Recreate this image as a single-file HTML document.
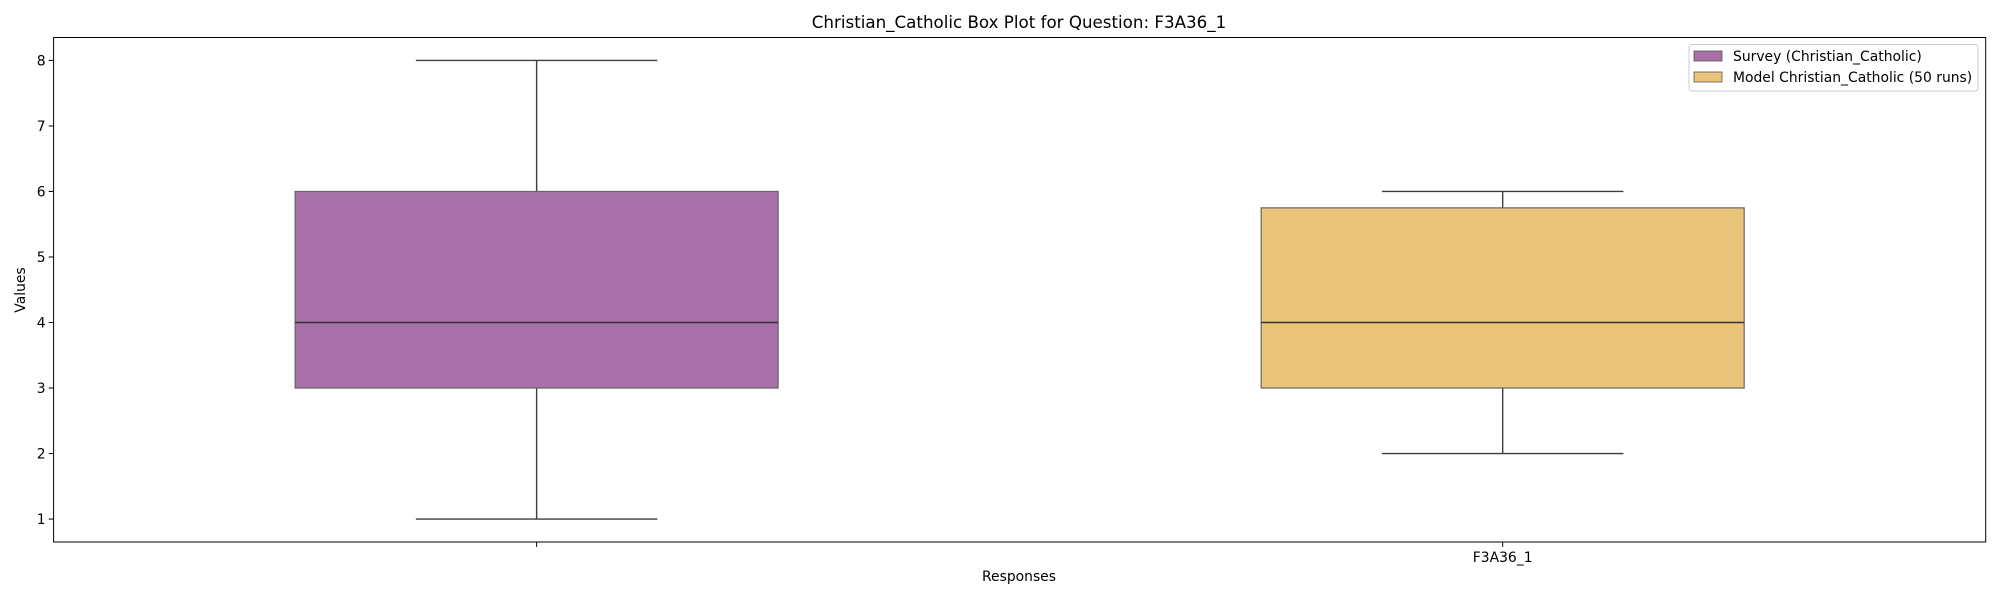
<!DOCTYPE html>
<html><head><meta charset="utf-8"><style>
html,body{margin:0;padding:0;background:#fff;}
svg{display:block;font-family:"DejaVu Sans","Liberation Sans",sans-serif;}
</style></head><body>
<svg id="chart" width="2000" height="600" viewBox="0 0 2000 600">
<text x="1019" y="28" font-size="16.7" text-anchor="middle">Christian_Catholic Box Plot for Question: F3A36_1</text>
<g id="marks"></g>
<g id="axes"></g>
<text x="1019" y="581" font-size="13.9" text-anchor="middle">Responses</text>
<text transform="translate(25,290) rotate(-90)" font-size="13.9" text-anchor="middle">Values</text>
<g>
<rect x="1689" y="44.5" width="289" height="46.5" rx="3" fill="#fff" stroke="#ccc" stroke-width="1" fill-opacity="0.8"/>
<rect x="1694" y="51" width="28" height="10" fill="#a870a8" stroke="#555" stroke-width="0.8"/>
<text x="1733" y="61" font-size="13.9">Survey (Christian_Catholic)</text>
<rect x="1694" y="72" width="28" height="10" fill="#eac47a" stroke="#555" stroke-width="0.8"/>
<text x="1733" y="82" font-size="13.9">Model Christian_Catholic (50 runs)</text>
</g>
</svg>
<script>
const categories = ["", "F3A36_1"];
const seriesNames = ["survey", "model"];
const whiskerLow = [1, 2];
const q1Values = [3, 3];
const medianValues = [4, 4];
const q3Values = [6, 5.75];
const whiskerHigh = [8, 6];
const yTicks = [1, 2, 3, 4, 5, 6, 7, 8];
const colors = ["#a870a8", "#eac47a"];

const L = 53.6, R = 1985.7, T = 37.5, B = 542;
const yMin = 0.65, yMax = 8.35;
const xMin = -0.5, xMax = 1.5;
const xs = v => L + (v - xMin) / (xMax - xMin) * (R - L);
const ys = v => B - (v - yMin) / (yMax - yMin) * (B - T);
const NS = "http://www.w3.org/2000/svg";
function mk(tag, attrs, parent) {
  const e = document.createElementNS(NS, tag);
  for (const k in attrs) e.setAttribute(k, attrs[k]);
  parent.appendChild(e);
  return e;
}
const marks = document.getElementById("marks");
const axes = document.getElementById("axes");
for (let i = 0; i < categories.length; i++) {
  const c = xs(i), hw = xs(0.25) - xs(0), cw = xs(0.125) - xs(0);
  const g = mk("g", {}, marks);
  
  
  const st = {stroke: "#3d3d3d", "stroke-width": 1.4};
  const w1 = mk("line", Object.assign({x1: c, x2: c, y1: ys(whiskerLow[i]), y2: ys(q1Values[i])}, st), g);
  
  
  const w2 = mk("line", Object.assign({x1: c, x2: c, y1: ys(q3Values[i]), y2: ys(whiskerHigh[i])}, st), g);
  
  
  const c1 = mk("line", Object.assign({x1: c - cw, x2: c + cw, y1: ys(whiskerLow[i]), y2: ys(whiskerLow[i])}, st), g);
  
  
  const c2 = mk("line", Object.assign({x1: c - cw, x2: c + cw, y1: ys(whiskerHigh[i]), y2: ys(whiskerHigh[i])}, st), g);
  
  
  const b = mk("rect", {x: c - hw, y: ys(q3Values[i]), width: 2 * hw, height: ys(q1Values[i]) - ys(q3Values[i]), fill: colors[i], stroke: "#666", "stroke-width": 1.2}, g);
  
  
  const m = mk("line", {x1: c - hw, x2: c + hw, y1: ys(medianValues[i]), y2: ys(medianValues[i]), stroke: "#333", "stroke-width": 1.6}, g);
  
  
  const t = mk("line", {x1: c, x2: c, y1: B, y2: B + 4.9, stroke: "#000", "stroke-width": 1}, axes);
  
  
  const tl = mk("text", {x: c, y: B + 20, "font-size": 13.9, "text-anchor": "middle"}, axes);
  tl.textContent = categories[i];
  
  
}
yTicks.forEach(v => {
  const t = mk("line", {x1: L - 4.9, x2: L, y1: ys(v), y2: ys(v), stroke: "#000", "stroke-width": 1}, axes);
  
  
  const tl = mk("text", {x: L - 8, y: ys(v) + 5, "font-size": 13.9, "text-anchor": "end"}, axes);
  tl.textContent = v;
  
  
});
const frame = mk("rect", {x: L, y: T, width: R - L, height: B - T, fill: "none", stroke: "#000", "stroke-width": 1}, axes);


</script>
</body></html>
